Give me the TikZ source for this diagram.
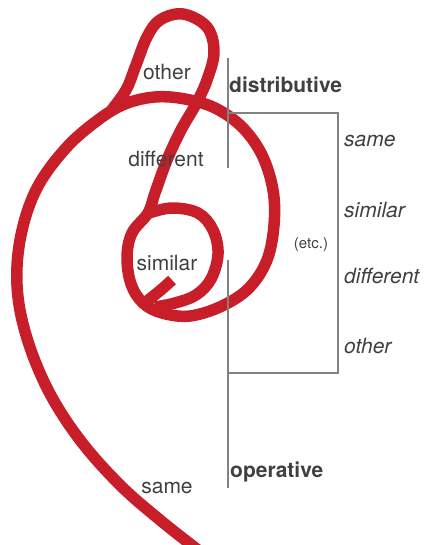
\documentclass[tikz,border=0pt]{standalone}
\usepackage{fontspec}
\setmainfont{TeX Gyre Heros}
\definecolor{clefred}{RGB}{200,30,42}
\definecolor{wordgray}{RGB}{64,64,64}
\definecolor{rulegray}{RGB}{130,130,130}
\begin{document}
\begin{tikzpicture}[x=1pt, y=-1pt,
    clef/.style={draw=clefred, line width=11.5pt, line join=round},
    rule/.style={draw=rulegray, line width=1.1pt},
    word/.style={font=\fontsize{21}{21}\selectfont, text=wordgray, inner sep=0pt, anchor=base},
    boldword/.style={word, font=\fontsize{21}{21}\selectfont\bfseries, anchor=base west},
    itword/.style={word, font=\fontsize{21}{21}\selectfont\itshape, anchor=base west}]
        \useasboundingbox (0,0) rectangle (425,545);
        % Red curve: outer spiral, inner loop, hook
        \draw[clef] plot[smooth, tension=0.6] coordinates {(198,550) (160,520) (120,485) (80,440) (48,390) (26,335) (17,285) (21,235) (37,188) (66,148) (98,120) (125,104) (155,97) (185,99) (215,108) (242,127) (262,155) (273,190) (274,225) (267,260) (249,288) (222,306) (190,316) (162,313) (143,303) (131,284) (127,257) (132,233) (148,213) (155,193) (167,160) (181,130) (196,104) (207,80) (214,52) (207,27) (183,14) (160,20) (147,37) (136,65) (126,90) (110,112)};
        \draw[clef] plot[smooth, tension=0.6] coordinates {(149,213) (172,208) (198,213) (213,230) (218,254) (211,279) (196,295) (175,303) (155,307)};
        \draw[clef] plot[smooth] coordinates {(172,280) (162,289) (146,302)};
        % Bracket lines
        \coordinate (dtop) at (228,58);
        \coordinate (dend) at (228,168);
        \coordinate (ostart) at (228,260);
        \coordinate (obot) at (228,488);
        \draw[rule] (dtop) -- (dend);
        \draw[rule] (ostart) -- (obot);
        \draw[rule] (228,113) -- (338,113) -- (338,373) -- (228,373);
        % Labels on the curve
        \node[word] (other) at (167,80) {other};
        \node[word] (different) at (166,167) {different};
        \node[word] (similar) at (167,270) {similar};
        \node[word] (same) at (167,493) {same};
        \node[boldword] (distributive) at (229,93) {distributive};
        \node[boldword] (operative) at (230,477) {operative};
        \node[word, font=\fontsize{15}{15}\selectfont] (etc) at (311,248) {(etc.)};
        % Right column
        \foreach \w/\y in {same/147, similar/217, different/283, other/353} {
          \node[itword] (r-\w) at (344,\y) {\w};
        }
      \end{tikzpicture}
\end{document}
